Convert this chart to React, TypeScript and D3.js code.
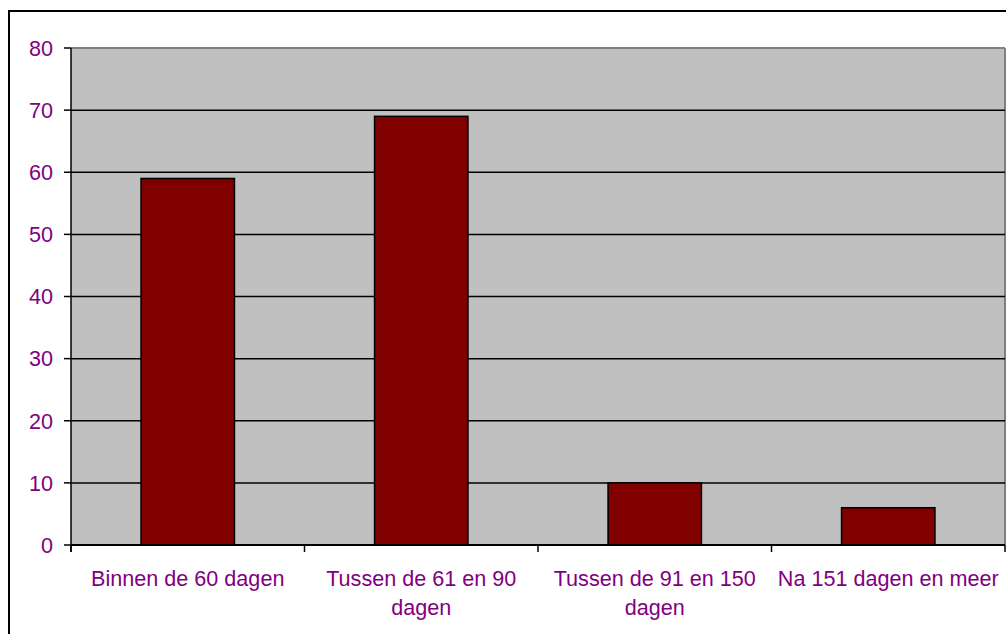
import React from "react";
import * as d3 from "d3";

const categories: string[][] = [
  ["Binnen de 60 dagen"],
  ["Tussen de 61 en 90", "dagen"],
  ["Tussen de 91 en 150", "dagen"],
  ["Na 151 dagen en meer"],
];
const values: number[] = [59, 69, 10, 6];
const yTicks: number[] = [0, 10, 20, 30, 40, 50, 60, 70, 80];

export default function App() {
  const W = 1006, H = 634;
  const left = 71, right = 1005, top = 48, bottom = 545;
  const keys = categories.map((c) => c.join(" "));
  const x = d3.scaleBand<string>().domain(keys).range([left, right]).paddingInner(0.6).paddingOuter(0.3);
  const xb = d3.scaleBand<string>().domain(keys).range([left, right]);
  const y = d3.scaleLinear().domain([0, 80]).range([bottom, top]);
  const purple = "#800080";
  const font = "'Liberation Sans', Arial, sans-serif";
  const fs = 21.6;
  return (
    <svg width={W} height={H} style={{ position: "absolute", left: 0, top: 0 }}>
      <rect x={0} y={0} width={W} height={H} fill="#fff" />
      <rect x={9} y={11} width={W + 20} height={H + 20} fill="none" stroke="#000" strokeWidth={2} />
      <rect x={left} y={top} width={right - left} height={bottom - top} fill="#C0C0C0" />
      <line x1={left} x2={right} y1={top} y2={top} stroke="#808080" strokeWidth={2} />
      <line x1={right} x2={right} y1={top} y2={bottom} stroke="#808080" strokeWidth={2} />
      {yTicks.filter((t) => t > 0 && t < 80).map((t) => (
        <line key={"g" + t} x1={left} x2={right} y1={y(t)} y2={y(t)} stroke="#000" strokeWidth={1.5} />
      ))}
      {keys.map((k, i) => (
        <rect key={k} x={x(k)!} y={y(values[i])} width={x.bandwidth()} height={bottom - y(values[i])}
          fill="#800000" stroke="#000" strokeWidth={1.5} />
      ))}
      <line x1={left} x2={left} y1={top} y2={bottom + 7} stroke="#000" strokeWidth={1.5} />
      <line x1={left} x2={right} y1={bottom} y2={bottom} stroke="#000" strokeWidth={2} />
      {yTicks.map((t) => (
        <g key={"t" + t}>
          <line x1={left - 7} x2={left} y1={y(t)} y2={y(t)} stroke="#000" strokeWidth={1.5} />
          <text x={53} y={y(t)} dy="0.36em" textAnchor="end" fontFamily={font} fontSize={fs} fill={purple}>{t}</text>
        </g>
      ))}
      {keys.map((k) => (
        <line key={"xt" + k} x1={xb(k)!} x2={xb(k)!} y1={bottom} y2={bottom + 7} stroke="#000" strokeWidth={1.5} />
      ))}
      <line x1={right} x2={right} y1={bottom} y2={bottom + 7} stroke="#000" strokeWidth={1.5} />
      {categories.map((lines, i) => (
        <text key={"l" + i} x={xb(keys[i])! + xb.bandwidth() / 2} y={578} textAnchor="middle"
          fontFamily={font} fontSize={fs} fill={purple}>
          {lines.map((ln, j) => (
            <tspan key={j} x={xb(keys[i])! + xb.bandwidth() / 2} dy={j === 0 ? "0.36em" : 29}>{ln}</tspan>
          ))}
        </text>
      ))}
    </svg>
  );
}
